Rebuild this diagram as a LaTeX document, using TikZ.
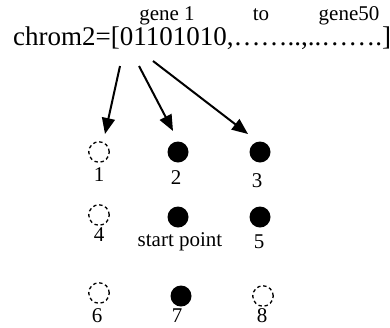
\documentclass[tikz,border=0pt]{standalone}
\usepackage{fontspec}
\setmainfont{Liberation Serif}
\usetikzlibrary{arrows.meta}
\tikzset{
  gene/.style={circle, fill=black, minimum size=21pt, inner sep=0pt},
  nogene/.style={circle, draw=black, line width=1.3pt, dash pattern=on 3.4pt off 2.8pt, minimum size=20.5pt, inner sep=0pt},
  lbl/.style={font=\fontsize{21}{23}\selectfont, inner sep=0pt, anchor=base},
  pick/.style={line width=2pt, -{Triangle[length=16pt,width=13pt]}}
}
\begin{document}
\begin{tikzpicture}[x=1pt,y=-1pt]
\useasboundingbox (0,0) rectangle (390,327);

% chromosome string with gene range
\node[lbl] (g1) at (167,20) {gene 1};
\node[lbl] (to) at (261,20) {to};
\node[lbl] (g50) at (349,20) {gene50};
\node[font=\fontsize{27}{29}\selectfont, inner sep=0pt, anchor=base west] (chrom) at (13,45) {chrom2=[01101010,……..,..…….]};

% grid of candidate points
\node[nogene] (c1) at (99,152) {};
\node[gene]   (c2) at (178,152) {};
\node[gene]   (c3) at (260,152) {};
\node[nogene] (c4) at (99,215) {};
\node[gene]   (cs) at (178,217) {};
\node[gene]   (c5) at (260,217) {};
\node[nogene] (c6) at (99,293) {};
\node[gene]   (c7) at (181,296) {};
\node[nogene] (c8) at (263,296) {};

\node[lbl] (l1) at (99,181) {1};
\node[lbl] (l2) at (176,184) {2};
\node[lbl] (l3) at (257,187) {3};
\node[lbl] (l4) at (99,241) {4};
\node[lbl] (ls) at (180,246) {start point};
\node[lbl] (l5) at (259,248) {5};
\node[lbl] (l6) at (97,322) {6};
\node[lbl] (l7) at (177,322) {7};
\node[lbl] (l8) at (262,322) {8};

% bit-to-point arrows
\coordinate (b1) at (120,66);
\coordinate (b2) at (139,66);
\coordinate (b3) at (153,61);
\coordinate (t1) at (105,134);
\coordinate (t2) at (173,131);
\coordinate (t3) at (248,134);
\draw[pick] (b1) -- (t1);
\draw[pick] (b2) -- (t2);
\draw[pick] (b3) -- (t3);
\end{tikzpicture}
\end{document}
